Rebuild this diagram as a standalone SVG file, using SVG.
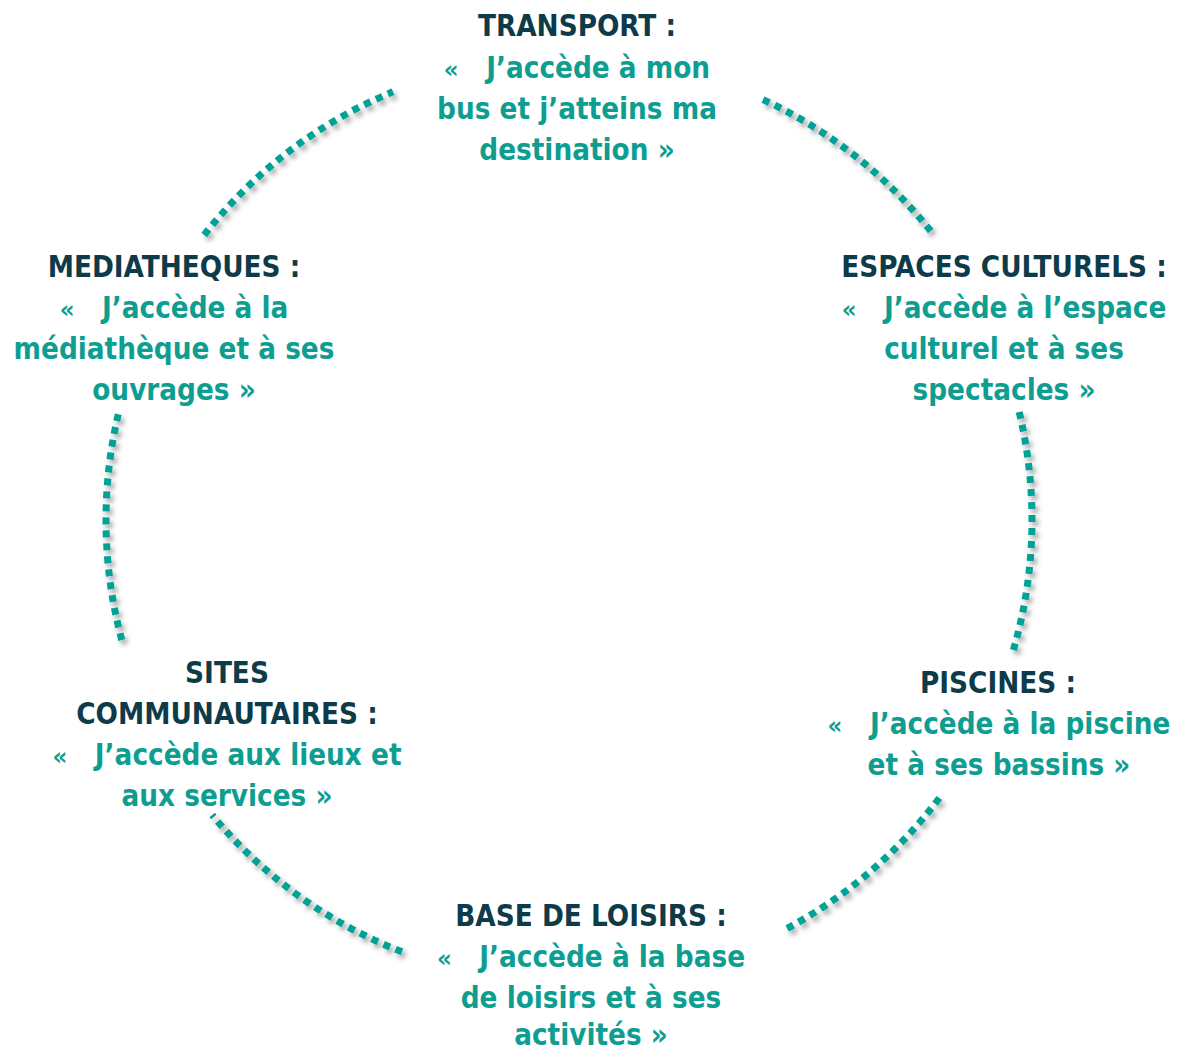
<svg xmlns="http://www.w3.org/2000/svg" width="1177" height="1051" viewBox="0 0 1177 1051">
<style>
  text { font-family: "DejaVu Sans Condensed", "DejaVu Sans", "Liberation Sans", sans-serif; font-weight: bold; font-size: 29.3px; text-anchor: middle; }
  .h { fill: #0E3B49; }
  .q { fill: #0E9E91; }
  .g { font-size: 25.5px; }
  .arc { fill: none; stroke: #00A196; stroke-width: 7; stroke-dasharray: 7 6; }
</style>
<defs>
  <filter id="sh" x="-20%" y="-20%" width="140%" height="140%">
    <feDropShadow dx="3" dy="4" stdDeviation="2.5" flood-color="#000" flood-opacity="0.35"/>
  </filter>
</defs>
<rect width="1177" height="1051" fill="#fff"/>
<g id="connectors" filter="url(#sh)">
  <path class="arc" d="M 763 99.6 A 463 463 0 0 1 932.3 233"/>
  <path class="arc" d="M 1019.2 412 A 463 463 0 0 1 1013.4 650"/>
  <path class="arc" d="M 939.3 798 A 463 463 0 0 1 782 931.1"/>
  <path class="arc" d="M 402 951.8 A 463 463 0 0 1 212.2 815"/>
  <path class="arc" d="M 121.8 640 A 463 463 0 0 1 118.8 412"/>
  <path class="arc" d="M 204.2 235 A 463 463 0 0 1 393 91.8"/>
</g>
<g id="transport">
  <text class="h" x="577" y="36">TRANSPORT :</text>
  <text class="q" x="577" y="78"><tspan class="g">«</tspan>&#160;&#160; J’accède à mon</text>
  <text class="q" x="577" y="119">bus et j’atteins ma</text>
  <text class="q" x="577" y="160">destination »</text>
</g>
<g id="espaces-culturels">
  <text class="h" x="1004" y="277">ESPACES CULTURELS :</text>
  <text class="q" x="1004" y="318"><tspan class="g">«</tspan>&#160;&#160; J’accède à l’espace</text>
  <text class="q" x="1004" y="359">culturel et à ses</text>
  <text class="q" x="1004" y="400">spectacles »</text>
</g>
<g id="piscines">
  <text class="h" x="998" y="693">PISCINES :</text>
  <text class="q" x="999" y="734"><tspan class="g">«</tspan>&#160;&#160; J’accède à la piscine</text>
  <text class="q" x="999" y="775">et à ses bassins »</text>
</g>
<g id="base-de-loisirs">
  <text class="h" x="591" y="926">BASE DE LOISIRS :</text>
  <text class="q" x="591" y="967"><tspan class="g">«</tspan>&#160;&#160; J’accède à la base</text>
  <text class="q" x="591" y="1008">de loisirs et à ses</text>
  <text class="q" x="591" y="1045">activités »</text>
</g>
<g id="sites-communautaires">
  <text class="h" x="227" y="683">SITES</text>
  <text class="h" x="227" y="724">COMMUNAUTAIRES :</text>
  <text class="q" x="227" y="765"><tspan class="g">«</tspan>&#160;&#160; J’accède aux lieux et</text>
  <text class="q" x="227" y="806">aux services »</text>
</g>
<g id="mediatheques">
  <text class="h" x="174" y="277">MEDIATHEQUES :</text>
  <text class="q" x="174" y="318"><tspan class="g">«</tspan>&#160;&#160; J’accède à la</text>
  <text class="q" x="174" y="359">médiathèque et à ses</text>
  <text class="q" x="174" y="400">ouvrages »</text>
</g>
</svg>
